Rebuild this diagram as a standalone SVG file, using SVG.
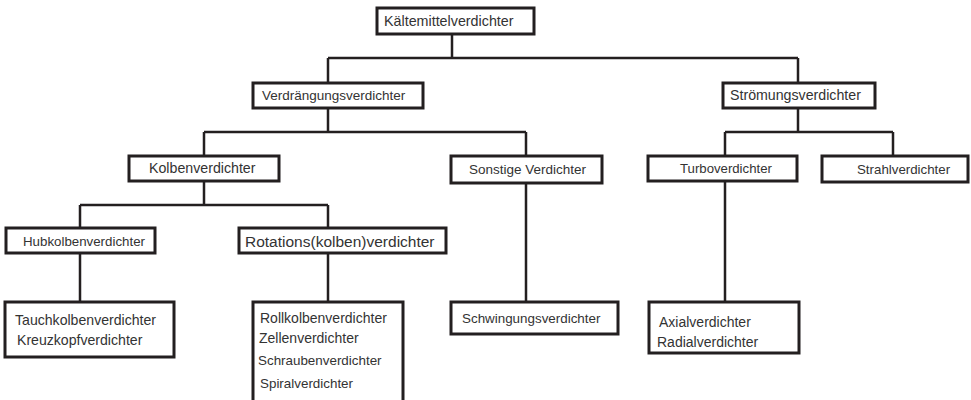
<svg xmlns="http://www.w3.org/2000/svg" width="971" height="400" viewBox="0 0 971 400">
<style>
.box{fill:#fff;stroke:#231f20;stroke-width:3}
.ln{fill:none;stroke:#231f20;stroke-width:2.5}
text{font-family:"Liberation Sans",Arial,sans-serif;fill:#333;font-size:13.5px}
</style>
<rect width="971" height="400" fill="#fff"/>
<g id="connectors">
<path class="ln" d="M452,34 V58 M328,58 H798 M328,58 V83 M798,58 V83"/>
<path class="ln" d="M328,108 V132 M204,132 H526 M204,132 V156 M526,132 V156"/>
<path class="ln" d="M798,108 V132 M725,132 H893 M725,132 V156 M893,132 V156"/>
<path class="ln" d="M204,181 V205 M80,205 H328 M80,205 V228 M328,205 V228"/>
<path class="ln" d="M80,253 V302 M328,253 V302"/>
<path class="ln" d="M526,183 V302 M725,181 V302"/>
</g>
<g id="n-kaelte"><rect class="box" x="377" y="8" width="157" height="26"/><text x="384" y="26" style="font-size:14.3px">Kältemittelverdichter</text></g>
<g id="n-verdraengung"><rect class="box" x="253" y="83" width="170" height="25"/><text x="262" y="100">Verdrängungsverdichter</text></g>
<g id="n-stroemung"><rect class="box" x="723" y="83" width="152" height="25"/><text x="730" y="100" style="font-size:14.2px">Strömungsverdichter</text></g>
<g id="n-kolben"><rect class="box" x="129" y="156" width="150" height="25"/><text x="149" y="173" style="font-size:14.2px">Kolbenverdichter</text></g>
<g id="n-sonstige"><rect class="box" x="451" y="156" width="151" height="27"/><text x="469" y="174">Sonstige Verdichter</text></g>
<g id="n-turbo"><rect class="box" x="648" y="156" width="149" height="25"/><text x="680" y="173" style="font-size:13.2px">Turboverdichter</text></g>
<g id="n-strahl"><rect class="box" x="822" y="156" width="146" height="26"/><text x="857" y="174" style="font-size:13.3px">Strahlverdichter</text></g>
<g id="n-hub"><rect class="box" x="6" y="228" width="149" height="25"/><text x="23" y="246" style="font-size:13.3px">Hubkolbenverdichter</text></g>
<g id="n-rotation"><rect class="box" x="239" y="228" width="207" height="25"/><text x="245" y="247" style="font-size:15.5px">Rotations(kolben)verdichter</text></g>
<g id="n-tauch"><rect class="box" x="5" y="302" width="169" height="55"/><text x="15" y="325" style="font-size:14.1px">Tauchkolbenverdichter</text><text x="17" y="345" style="font-size:14.1px">Kreuzkopfverdichter</text></g>
<g id="n-roll"><rect class="box" x="253" y="302" width="150" height="110"/><text x="260" y="323" style="font-size:14px">Rollkolbenverdichter</text><text x="259" y="343" style="font-size:14px">Zellenverdichter</text><text x="258" y="365" style="font-size:13.4px">Schraubenverdichter</text><text x="260" y="388" style="font-size:13.4px">Spiralverdichter</text></g>
<g id="n-schwingung"><rect class="box" x="451" y="302" width="167" height="32"/><text x="462" y="323" style="font-size:13.4px">Schwingungsverdichter</text></g>
<g id="n-axial"><rect class="box" x="649" y="302" width="150" height="51"/><text x="659" y="327" style="font-size:14px">Axialverdichter</text><text x="657" y="347" style="font-size:14px">Radialverdichter</text></g>
</svg>
